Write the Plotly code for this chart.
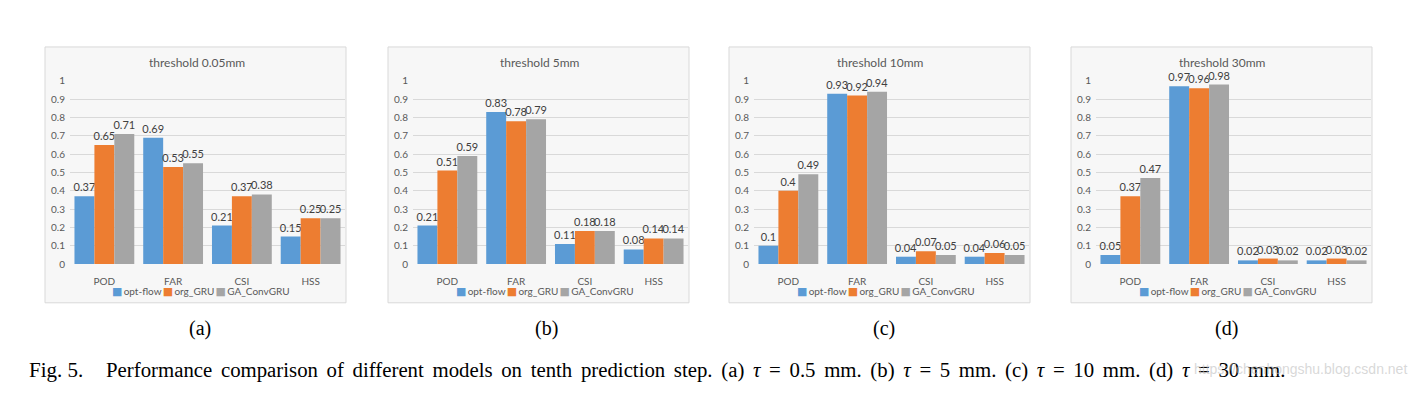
import plotly.graph_objects as go

# page has an 8px body margin; the figure is sized to fill the rest of the window
OFF = 8
W, H = 1419 - OFF, 397 - OFF

categories = ["POD", "FAR", "CSI", "HSS"]
series_names = ["opt-flow", "org_GRU", "GA_ConvGRU"]
panel_titles = ["threshold 0.05mm", "threshold 5mm", "threshold 10mm", "threshold 30mm"]
panel_tags = ["(a)", "(b)", "(c)", "(d)"]

# values per panel: opt-flow, org_GRU, GA_ConvGRU
opt_flow_a = [0.37, 0.69, 0.21, 0.15]
org_gru_a = [0.65, 0.53, 0.37, 0.25]
ga_convgru_a = [0.71, 0.55, 0.38, 0.25]

opt_flow_b = [0.21, 0.83, 0.11, 0.08]
org_gru_b = [0.51, 0.78, 0.18, 0.14]
ga_convgru_b = [0.59, 0.79, 0.18, 0.14]

opt_flow_c = [0.10, 0.93, 0.04, 0.04]
org_gru_c = [0.40, 0.92, 0.07, 0.06]
ga_convgru_c = [0.49, 0.94, 0.05, 0.05]

opt_flow_d = [0.05, 0.97, 0.02, 0.02]
org_gru_d = [0.37, 0.96, 0.03, 0.03]
ga_convgru_d = [0.47, 0.98, 0.02, 0.02]

y_tick_vals = [0, 0.1, 0.2, 0.3, 0.4, 0.5, 0.6, 0.7, 0.8, 0.9, 1]
y_tick_text = ["0", "0.1", "0.2", "0.3", "0.4", "0.5", "0.6", "0.7", "0.8", "0.9", "1"]

caption_head = "Fig. 5."
caption_words = ("Performance comparison of different models on tenth prediction step. "
                 "(a) <i>τ</i> = 0.5 mm. (b) <i>τ</i> = 5 mm. (c) <i>τ</i> = 10 mm. (d) <i>τ</i> = 30 mm.").split(" ")
watermark = "https://chenhongshu.blog.csdn.net"

panels = [
    (opt_flow_a, org_gru_a, ga_convgru_a),
    (opt_flow_b, org_gru_b, ga_convgru_b),
    (opt_flow_c, org_gru_c, ga_convgru_c),
    (opt_flow_d, org_gru_d, ga_convgru_d),
]
colors = ["#5B9BD5", "#ED7D31", "#A5A5A5"]

FONT = "Lato, 'Open Sans', sans-serif"
GRAY = "#595959"
SERIF = "'Liberation Serif', 'DejaVu Serif', serif"

panel_left_px = [45, 388, 729, 1071]
panel_w_px = 301
tag_x_px = [200, 546, 884, 1226]

def px(x):
    return (x - OFF) / W

def py(y):
    return 1 - (y - OFF) / H

legend_html = "\u2009".join(
    f"<span style='color:{c}; font-family:DejaVu Sans; font-size:11px'>■</span>\u2009{n}"
    for c, n in zip(colors, series_names)
)

fig = go.Figure()
layout = dict(
    width=W, height=H,
    margin=dict(l=0, r=0, t=0, b=0),
    paper_bgcolor="white",
    plot_bgcolor="rgba(0,0,0,0)",
    barmode="group",
    bargap=0.13,
    bargroupgap=0,
    showlegend=False,
    shapes=[],
    annotations=[],
    font=dict(family=FONT, color=GRAY),
)

for i, vals in enumerate(panels):
    k = "" if i == 0 else str(i + 1)
    L = panel_left_px[i]
    for j, v in enumerate(vals):
        fig.add_trace(go.Bar(
            x=categories, y=v, name=series_names[j],
            marker=dict(color=colors[j], line=dict(width=0)),
            text=[f"{t:g}" for t in v], textposition="outside",
            textfont=dict(size=11, color="#404040", family=FONT),
            constraintext="none", cliponaxis=False,
            xaxis="x" + k, yaxis="y" + k,
            offsetgroup=str(j),
        ))
    layout["xaxis" + k] = dict(
        domain=[px(L + 25), px(L + 300)], anchor="y" + k,
        showgrid=False, zeroline=False, showline=False, ticks="",
        tickfont=dict(size=10, color=GRAY, family=FONT),
        ticklabelstandoff=10, fixedrange=True,
    )
    layout["yaxis" + k] = dict(
        domain=[py(266), py(77)], anchor="x" + k, range=[0, 1],
        tickvals=y_tick_vals, ticktext=y_tick_text,
        showgrid=True, gridcolor="#D9D9D9", gridwidth=1,
        zeroline=False, showline=False, ticks="",
        tickfont=dict(size=10, color=GRAY, family=FONT),
        ticklabelstandoff=4, fixedrange=True,
    )
    layout["shapes"].append(dict(
        type="rect", xref="paper", yref="paper", layer="below",
        x0=px(L), x1=px(L + panel_w_px), y0=py(306), y1=py(42),
        fillcolor="#F7F7F7", line=dict(color="#D9D9D9", width=1),
    ))
    layout["annotations"].append(dict(
        text=panel_titles[i], xref="paper", yref="paper",
        x=px(L + panel_w_px / 2 + 1), y=py(58), showarrow=False,
        xanchor="center", yanchor="middle",
        font=dict(size=12, color=GRAY, family=FONT),
    ))
    layout["annotations"].append(dict(
        text=legend_html, xref="paper", yref="paper",
        x=px(L + panel_w_px / 2 + 6), y=py(294), showarrow=False,
        xanchor="center", yanchor="middle",
        font=dict(size=10, color=GRAY, family=FONT),
    ))
    layout["annotations"].append(dict(
        text=panel_tags[i], xref="paper", yref="paper",
        x=px(tag_x_px[i]), y=py(333), showarrow=False,
        xanchor="center", yanchor="middle",
        font=dict(size=20, color="black", family=SERIF),
    ))

layout["annotations"].append(dict(
    text=caption_head, xref="paper", yref="paper", x=px(27), y=py(375),
    showarrow=False, xanchor="left", yanchor="middle",
    font=dict(size=21, color="black", family=SERIF),
))
layout["annotations"].append(dict(
    text=" \u2006".join(caption_words), xref="paper", yref="paper", x=px(104), y=py(375),
    showarrow=False, xanchor="left", yanchor="middle",
    font=dict(size=20.8, color="black", family=SERIF),
))
layout["annotations"].append(dict(
    text=watermark, xref="paper", yref="paper", x=px(1409), y=py(374),
    showarrow=False, xanchor="right", yanchor="middle",
    font=dict(size=14, color="rgba(190,190,190,0.6)", family="'Liberation Sans', sans-serif"),
))

fig.update_layout(**layout)
fig.write_html("out.html")
